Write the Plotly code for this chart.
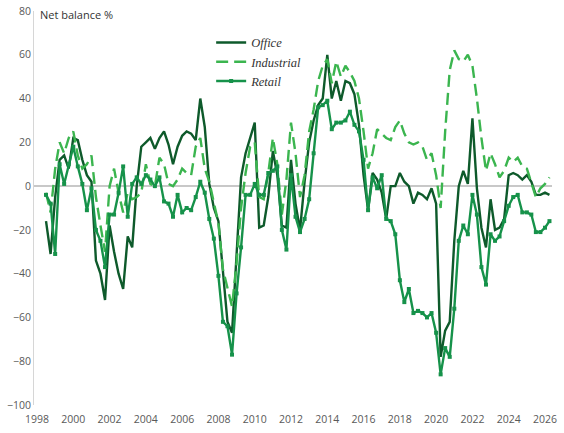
import pandas as pd
import plotly.graph_objects as go

# quarterly survey readings, 1998 Q3 .. 2026 Q2
quarters = pd.period_range("1998Q3", "2026Q2", freq="Q").to_timestamp()

office = [
    -16, -31,
    -5, 12, 14, 8,
    22, 21, 12, 5,
    2, -34, -40, -52,
    -18, -30, -40, -47,
    -23, -28, 0, 18,
    20, 22, 17, 22,
    25, 19, 10, 18,
    23, 25, 24, 21,
    40, 27, 1, -10,
    -16, -40, -62, -67,
    -30, 4, 15, 22,
    29, -19, -18, -5,
    16, 5, -18, -19,
    12, -8, -20, 2,
    20, 30, 37, 40,
    60, 40, 48, 39,
    48, 47, 42, 28,
    5, -11, 6, 3,
    -3, -15, 0, 0,
    6, 2, 0, -8,
    -3, -4, -6, -1,
    -8, -78, -66, -62,
    -25, 0, 7, 1,
    31, -1, -19, -28,
    -6, -20, -19, -15,
    5, 6, 5, 3,
    5, 2, -4, -4,
    -3, -4,
]

industrial = [
    -3, -12,
    8, 20, 15, 22,
    25, 14, 8, 10,
    14, -5, -18, -30,
    0, 8, -3, -12,
    -3, -6, -5, -3,
    10, 1, 0, 13,
    10, 1, 0, 3,
    8, 6, 5, 18,
    22, 8, 2, -8,
    -17, -38, -47, -55,
    -35, -10, 6, 18,
    20, -5, -6, 6,
    22, 10, -13, 3,
    29, 15, -5, 5,
    25, 35, 48, 55,
    58, 47, 57, 50,
    55, 52, 48, 40,
    25, 8, 15, 26,
    24, 22, 21, 27,
    30, 24, 20, 19,
    20, 18, 12, 15,
    5, -10, 25, 53,
    62, 58, 57, 60,
    55, 40, 22, 7,
    15, 10, 4, 7,
    13, 11, 13, 9,
    8, 1, -5, -1,
    1, 4,
]

retail = [
    -4, -8,
    -31, 10, 1, 10,
    18, 9, 1, -11,
    -1, -20, -25, -37,
    -13, -13, -3, 9,
    -14, 1, 4, 1,
    5, 3, 0, 4,
    -7, -8, -14, -4,
    -12, -10, -11, -5,
    2, -3, -15, -24,
    -41, -62, -64, -77,
    -49, -28, -4, -4,
    1, -4, -4, 6,
    7, 9, -20, -29,
    5, -14, -21, -15,
    -6, 15, 36, 37,
    39, 26, 29, 29,
    30, 34, 28, 25,
    12, -11, 4, -1,
    5, -15, -16, -22,
    -43, -53, -47, -58,
    -57, -58, -60, -58,
    -67, -86, -74, -78,
    -56, -25, -18, -22,
    -4, -13, -37, -45,
    -22, -25, -23, -16,
    -9, -5, -4, -12,
    -12, -13, -21, -21,
    -19, -16,
]

fig = go.Figure()

fig.add_trace(go.Scatter(
    x=quarters, y=office, name="Office", mode="lines",
    line=dict(color="#0e5a2b", width=2.4)
))
fig.add_trace(go.Scatter(
    x=quarters, y=industrial, name="Industrial", mode="lines",
    line=dict(color="#3bb54f", width=2.4, dash="12px,6px")
))
fig.add_trace(go.Scatter(
    x=quarters, y=retail, name="Retail", mode="lines+markers",
    line=dict(color="#16924a", width=2.4),
    marker=dict(symbol="square", size=4, color="#16924a")
))

fig.add_annotation(
    text="Net balance %", xref="paper", yref="paper",
    x=0.008, y=0.99, xanchor="left", yanchor="middle",
    showarrow=False, font=dict(family="Open Sans", size=11, color="#333333")
)

fig.update_layout(
    width=564, height=433,
    margin=dict(l=34, r=12, t=11, b=28),
    paper_bgcolor="white", plot_bgcolor="white",
    font=dict(family="Open Sans", size=10.5, color="#595959"),
    showlegend=True,
    legend=dict(
        x=0.342, y=0.957, xanchor="left", yanchor="top",
        bgcolor="rgba(0,0,0,0)", itemwidth=30,
        font=dict(family="Liberation Serif", size=12.5, color="#333333", style="italic")
    ),
    xaxis=dict(
        type="date", range=["1997-11-01", "2026-05-22"],
        tick0="1998-01-01", dtick="M24", tickformat="%Y",
        showgrid=False, showline=False, zeroline=False, ticks="",
        ticklabelstandoff=6, automargin=False
    ),
    yaxis=dict(
        range=[-100, 80], dtick=20, showgrid=False,
        zeroline=True, zerolinecolor="#c8c8c8", zerolinewidth=1.5,
        showline=True, linecolor="#d6d6d6", linewidth=1, ticks="",
        automargin=False
    )
)

# drop the browser's default page margin so the chart sits at the window's corner
fig.write_html(
    "out.html",
    config={"displayModeBar": False},
    post_script="document.body.style.margin='0';"
)
